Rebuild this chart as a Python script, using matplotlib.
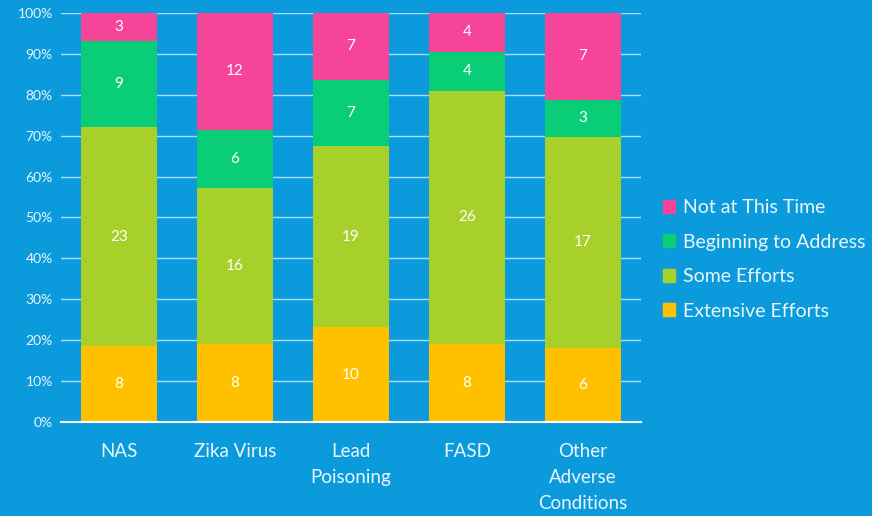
import numpy as np
import matplotlib.pyplot as plt
from matplotlib.patches import Patch

plt.rcParams['font.family'] = ['Lato', 'DejaVu Sans']

categories = ['NAS', 'Zika Virus', 'Lead\nPoisoning', 'FASD', 'Other\nAdverse\nConditions']
extensive = [8, 8, 10, 8, 6]
some = [23, 16, 19, 26, 17]
beginning = [9, 6, 7, 4, 3]
not_now = [3, 12, 7, 4, 7]

series = [
    ('Extensive Efforts', extensive, '#ffc000'),
    ('Some Efforts', some, '#a8d02a'),
    ('Beginning to Address', beginning, '#0acd78'),
    ('Not at This Time', not_now, '#f5449a'),
]

bg = '#0b9bdd'
txt = '#eaf6fc'

fig = plt.figure(figsize=(8.72, 5.16), dpi=100, facecolor=bg)
ax = fig.add_axes([0.070, 0.182, 0.665, 0.793])
ax.set_facecolor(bg)

totals = np.sum([s[1] for s in series], axis=0)
x = np.arange(len(categories))
bottom = np.zeros(len(categories))
for name, vals, color in series:
    pct = np.array(vals) / totals * 100
    ax.bar(x, pct, bottom=bottom, width=0.65, color=color, label=name, zorder=3)
    for xi, b, p, v in zip(x, bottom, pct, vals):
        ax.text(xi, b + p / 2, str(v), ha='center', va='center', color='white',
                fontsize=11, zorder=4)
    bottom += pct

ax.set_xlim(-0.5, 4.5)
ax.set_ylim(0, 100)
ax.set_yticks(np.arange(0, 101, 10))
ax.set_yticklabels([f'{v}%' for v in range(0, 101, 10)])
ax.yaxis.grid(True, color='#a9dcf5', linewidth=1, zorder=0)
ax.set_xticks(x)
ax.set_xticklabels(categories, fontsize=13.5, color=txt, linespacing=1.65)
ax.tick_params(axis='y', labelsize=10, colors=txt, length=0, pad=6)
ax.tick_params(axis='x', length=0, pad=15)
for side in ['top', 'right', 'left']:
    ax.spines[side].set_visible(False)
ax.spines['bottom'].set_color('white')
ax.spines['bottom'].set_linewidth(1.5)
ax.spines['bottom'].set_zorder(5)

handles = [Patch(color=c, label=n) for n, _, c in series][::-1]
leg = fig.legend(handles=handles, loc='center left', bbox_to_anchor=(0.760, 0.497),
                 frameon=False, fontsize=14, labelcolor=txt, handlelength=0.65,
                 handleheight=0.65, handletextpad=0.4, labelspacing=0.9,
                 borderpad=0, borderaxespad=0)

fig.savefig('out.png', dpi=100, facecolor=bg)
